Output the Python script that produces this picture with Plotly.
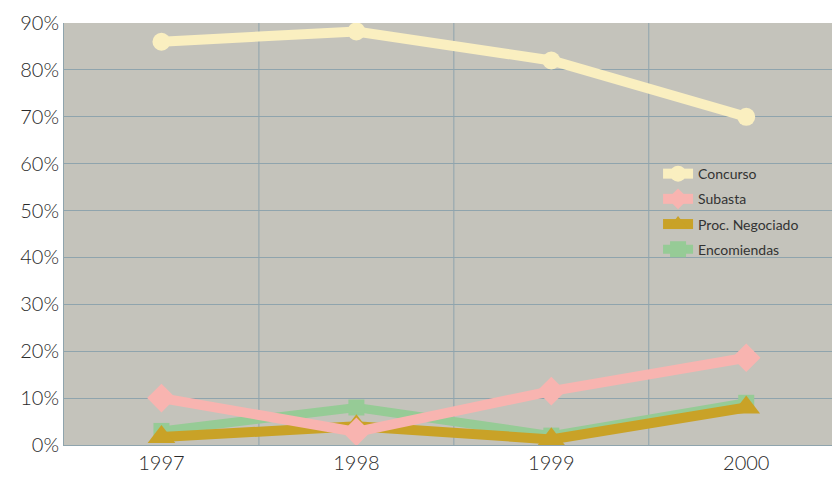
import plotly.graph_objects as go

years = ["1997", "1998", "1999", "2000"]
concurso = [86, 88.2, 82, 70]
subasta = [10, 2.8, 11.5, 18.6]
negociado = [1.7, 4.0, 1.2, 8.0]
encomiendas = [3.0, 8.0, 2.0, 9.0]
y_ticks = [0, 10, 20, 30, 40, 50, 60, 70, 80, 90]

xpos = list(range(len(years)))

fig = go.Figure()
fig.add_trace(go.Scatter(x=xpos, y=encomiendas, name="Encomiendas", mode="lines+markers",
                         legendgroup="e", legendrank=4,
                         line=dict(color="#96CB96", width=9),
                         marker=dict(symbol="square", size=16, color="#96CB96")))
fig.add_trace(go.Scatter(x=xpos, y=negociado, name="Proc. Negociado", mode="lines+markers",
                         legendgroup="n", legendrank=3,
                         line=dict(color="#C9A227", width=10),
                         marker=dict(symbol="triangle-up", size=24, color="#C9A227")))
fig.add_trace(go.Scatter(x=xpos, y=subasta, name="Subasta", mode="lines+markers",
                         legendgroup="s", legendrank=2,
                         line=dict(color="#F8B4B0", width=10),
                         marker=dict(symbol="diamond", size=22, color="#F8B4B0")))
fig.add_trace(go.Scatter(x=xpos, y=concurso, name="Concurso", mode="lines+markers",
                         legendgroup="c", legendrank=1,
                         line=dict(color="#FAEFC0", width=10),
                         marker=dict(symbol="circle", size=18, color="#FAEFC0")))

grid = "#8FA4AD"
fig.update_layout(
    width=832, height=477,
    margin=dict(l=64, r=0, t=23, b=32),
    paper_bgcolor="white",
    plot_bgcolor="#C4C3BB",
    font=dict(family="Lato, Open Sans, sans-serif", color="#333333"),
    legend=dict(x=0.7735, y=0.68, xanchor="left", yanchor="top",
                bgcolor="rgba(0,0,0,0)", traceorder="grouped",
                font=dict(size=14, color="#333333"), tracegroupgap=4),
    xaxis=dict(range=[-0.5, 3.44], tickvals=xpos, ticktext=years,
               showgrid=False, zeroline=False, showline=True, linecolor=grid,
               tickfont=dict(size=20, weight=300, color="#2a2a2a"), ticks="", ticklen=0),
    yaxis=dict(range=[0, 90], tickvals=y_ticks, ticktext=[f"{v}%" for v in y_ticks],
               showgrid=True, gridcolor=grid, gridwidth=1, zeroline=False,
               showline=True, linecolor=grid,
               tickfont=dict(size=20, weight=300, color="#2a2a2a"), ticks=""),
)
for b in [0.5, 1.5, 2.5]:
    fig.add_vline(x=b, line=dict(color=grid, width=1), layer="below")

fig.write_html("out.html", config={"displayModeBar": False})

with open("out.html", "r", encoding="utf-8") as f:
    html = f.read()
html = html.replace("<body>", "<body style=\"margin:0;padding:0;\">", 1)
with open("out.html", "w", encoding="utf-8") as f:
    f.write(html)
